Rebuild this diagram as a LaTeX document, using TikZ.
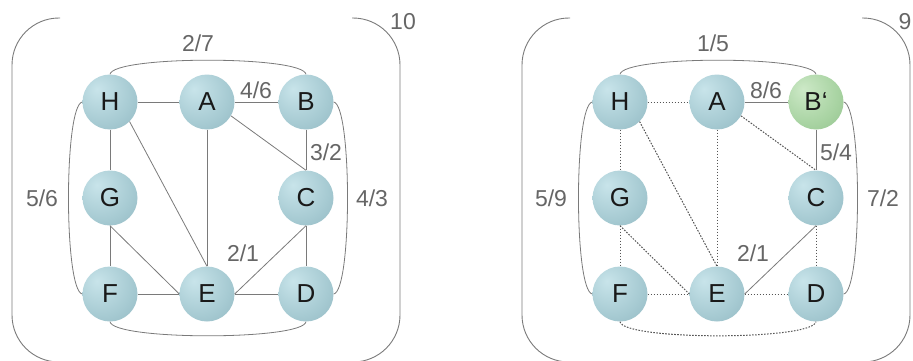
\documentclass[tikz,border=0pt]{standalone}
\usepackage{fontspec}
\setmainfont{Liberation Sans}
\definecolor{nbA}{HTML}{C8E4EA}
\definecolor{nbB}{HTML}{A6CAD2}
\definecolor{nbC}{HTML}{86ADB8}
\definecolor{ngA}{HTML}{CDE9C7}
\definecolor{ngB}{HTML}{A8D3A2}
\definecolor{ngC}{HTML}{86B781}
\definecolor{edgegray}{HTML}{7A7A7A}
\definecolor{dotgray}{HTML}{555555}
\definecolor{labgray}{HTML}{666666}
\pgfdeclareradialshading{nodeblue}{\pgfpoint{-12bp}{12bp}}{color(0bp)=(nbA); color(28bp)=(nbB); color(55bp)=(nbC); color(80bp)=(nbC)}
\pgfdeclareradialshading{nodegreen}{\pgfpoint{-12bp}{12bp}}{color(0bp)=(ngA); color(28bp)=(ngB); color(55bp)=(ngC); color(80bp)=(ngC)}
\tikzset{
  vtx/.style={circle,minimum size=55pt,inner sep=0pt,shading=nodeblue,font=\fontsize{26}{26}\selectfont,text=black!90},
  vtxg/.style={vtx,shading=nodegreen},
  edg/.style={draw=edgegray,line width=0.8pt},
  dot/.style={draw=dotgray,line width=1pt,dash pattern=on 1.6pt off 1.4pt},
  lab/.style={font=\fontsize{23}{23}\selectfont,text=labgray,inner sep=0pt},
  frame/.style={draw=edgegray,line width=0.9pt,rounded corners=47pt}
}
\begin{document}
\begin{tikzpicture}[x=1pt,y=1pt]
\useasboundingbox (0,0) rectangle (913,360);
% ---------- left panel ----------
\draw[frame] (60,342) -- (12,342) -- (12,-2) -- (400,-2) -- (400,342) -- (352,342);
\node[lab] (n10) at (403,338) {10};
\node[vtx] (H) at (110,258) {H};
\node[vtx] (A) at (207,258) {A};
\node[vtx] (B) at (306,258) {B};
\node[vtx] (G) at (110,162) {G};
\node[vtx] (C) at (306,162) {C};
\node[vtx] (F) at (110,66) {F};
\node[vtx] (E) at (207,66) {E};
\node[vtx] (D) at (306,66) {D};
\draw[edg] (H) -- (A);
\draw[edg] (A) -- (B);
\draw[edg] (H) -- (G);
\draw[edg] (H.-45) -- (E.north);
\draw[edg] (A) -- (E);
\draw[edg] (A.-30) -- (C.north);
\draw[edg] (B) -- (C);
\draw[edg] (G) -- (F);
\draw[edg] (G.south) -- (E.west);
\draw[edg] (F) -- (E);
\draw[edg] (E) -- (D);
\draw[edg] (E.east) -- (C.south);
\draw[edg] (C) -- (D);
\draw[edg] (H.north) to[out=80,in=100,looseness=0.25] (B.north);
\draw[edg] (F.south) to[out=-80,in=-100,looseness=0.25] (D.south);
\draw[edg] (H.west) to[out=190,in=170,looseness=0.25] (F.west);
\draw[edg] (B.east) to[out=-10,in=10,looseness=0.25] (D.east);
\node[lab] (l27) at (198,317) {2/7};
\node[lab] (l46) at (256,270) {4/6};
\node[lab] (l32) at (326,208) {3/2};
\node[lab] (l56) at (42,162) {5/6};
\node[lab] (l43) at (372,162) {4/3};
\node[lab] (l21) at (243,107) {2/1};
% ---------- right panel ----------
\draw[frame] (570,342) -- (522,342) -- (522,-2) -- (910,-2) -- (910,342) -- (862,342);
\node[lab] (n9) at (905,338) {9};
\node[vtx] (H2) at (620,258) {H};
\node[vtx] (A2) at (717,258) {A};
\node[vtxg] (B2) at (816,258) {B‘};
\node[vtx] (G2) at (620,162) {G};
\node[vtx] (C2) at (816,162) {C};
\node[vtx] (F2) at (620,66) {F};
\node[vtx] (E2) at (717,66) {E};
\node[vtx] (D2) at (816,66) {D};
\draw[dot] (H2) -- (A2);
\draw[edg] (A2) -- (B2);
\draw[dot] (H2) -- (G2);
\draw[dot] (H2.-45) -- (E2.north);
\draw[dot] (A2) -- (E2);
\draw[dot] (A2.-30) -- (C2.north);
\draw[edg] (B2) -- (C2);
\draw[dot] (G2) -- (F2);
\draw[dot] (G2.south) -- (E2.west);
\draw[dot] (F2) -- (E2);
\draw[dot] (E2) -- (D2);
\draw[edg] (E2.east) -- (C2.south);
\draw[dot] (C2) -- (D2);
\draw[edg] (H2.north) to[out=80,in=100,looseness=0.25] (B2.north);
\draw[dot] (F2.south) to[out=-80,in=-100,looseness=0.25] (D2.south);
\draw[edg] (H2.west) to[out=190,in=170,looseness=0.25] (F2.west);
\draw[edg] (B2.east) to[out=-10,in=10,looseness=0.25] (D2.east);
\node[lab] (r15) at (713,317) {1/5};
\node[lab] (r86) at (766,270) {8/6};
\node[lab] (r54) at (836,208) {5/4};
\node[lab] (r59) at (551,162) {5/9};
\node[lab] (r72) at (883,162) {7/2};
\node[lab] (r21) at (753,107) {2/1};
\end{tikzpicture}
\end{document}
